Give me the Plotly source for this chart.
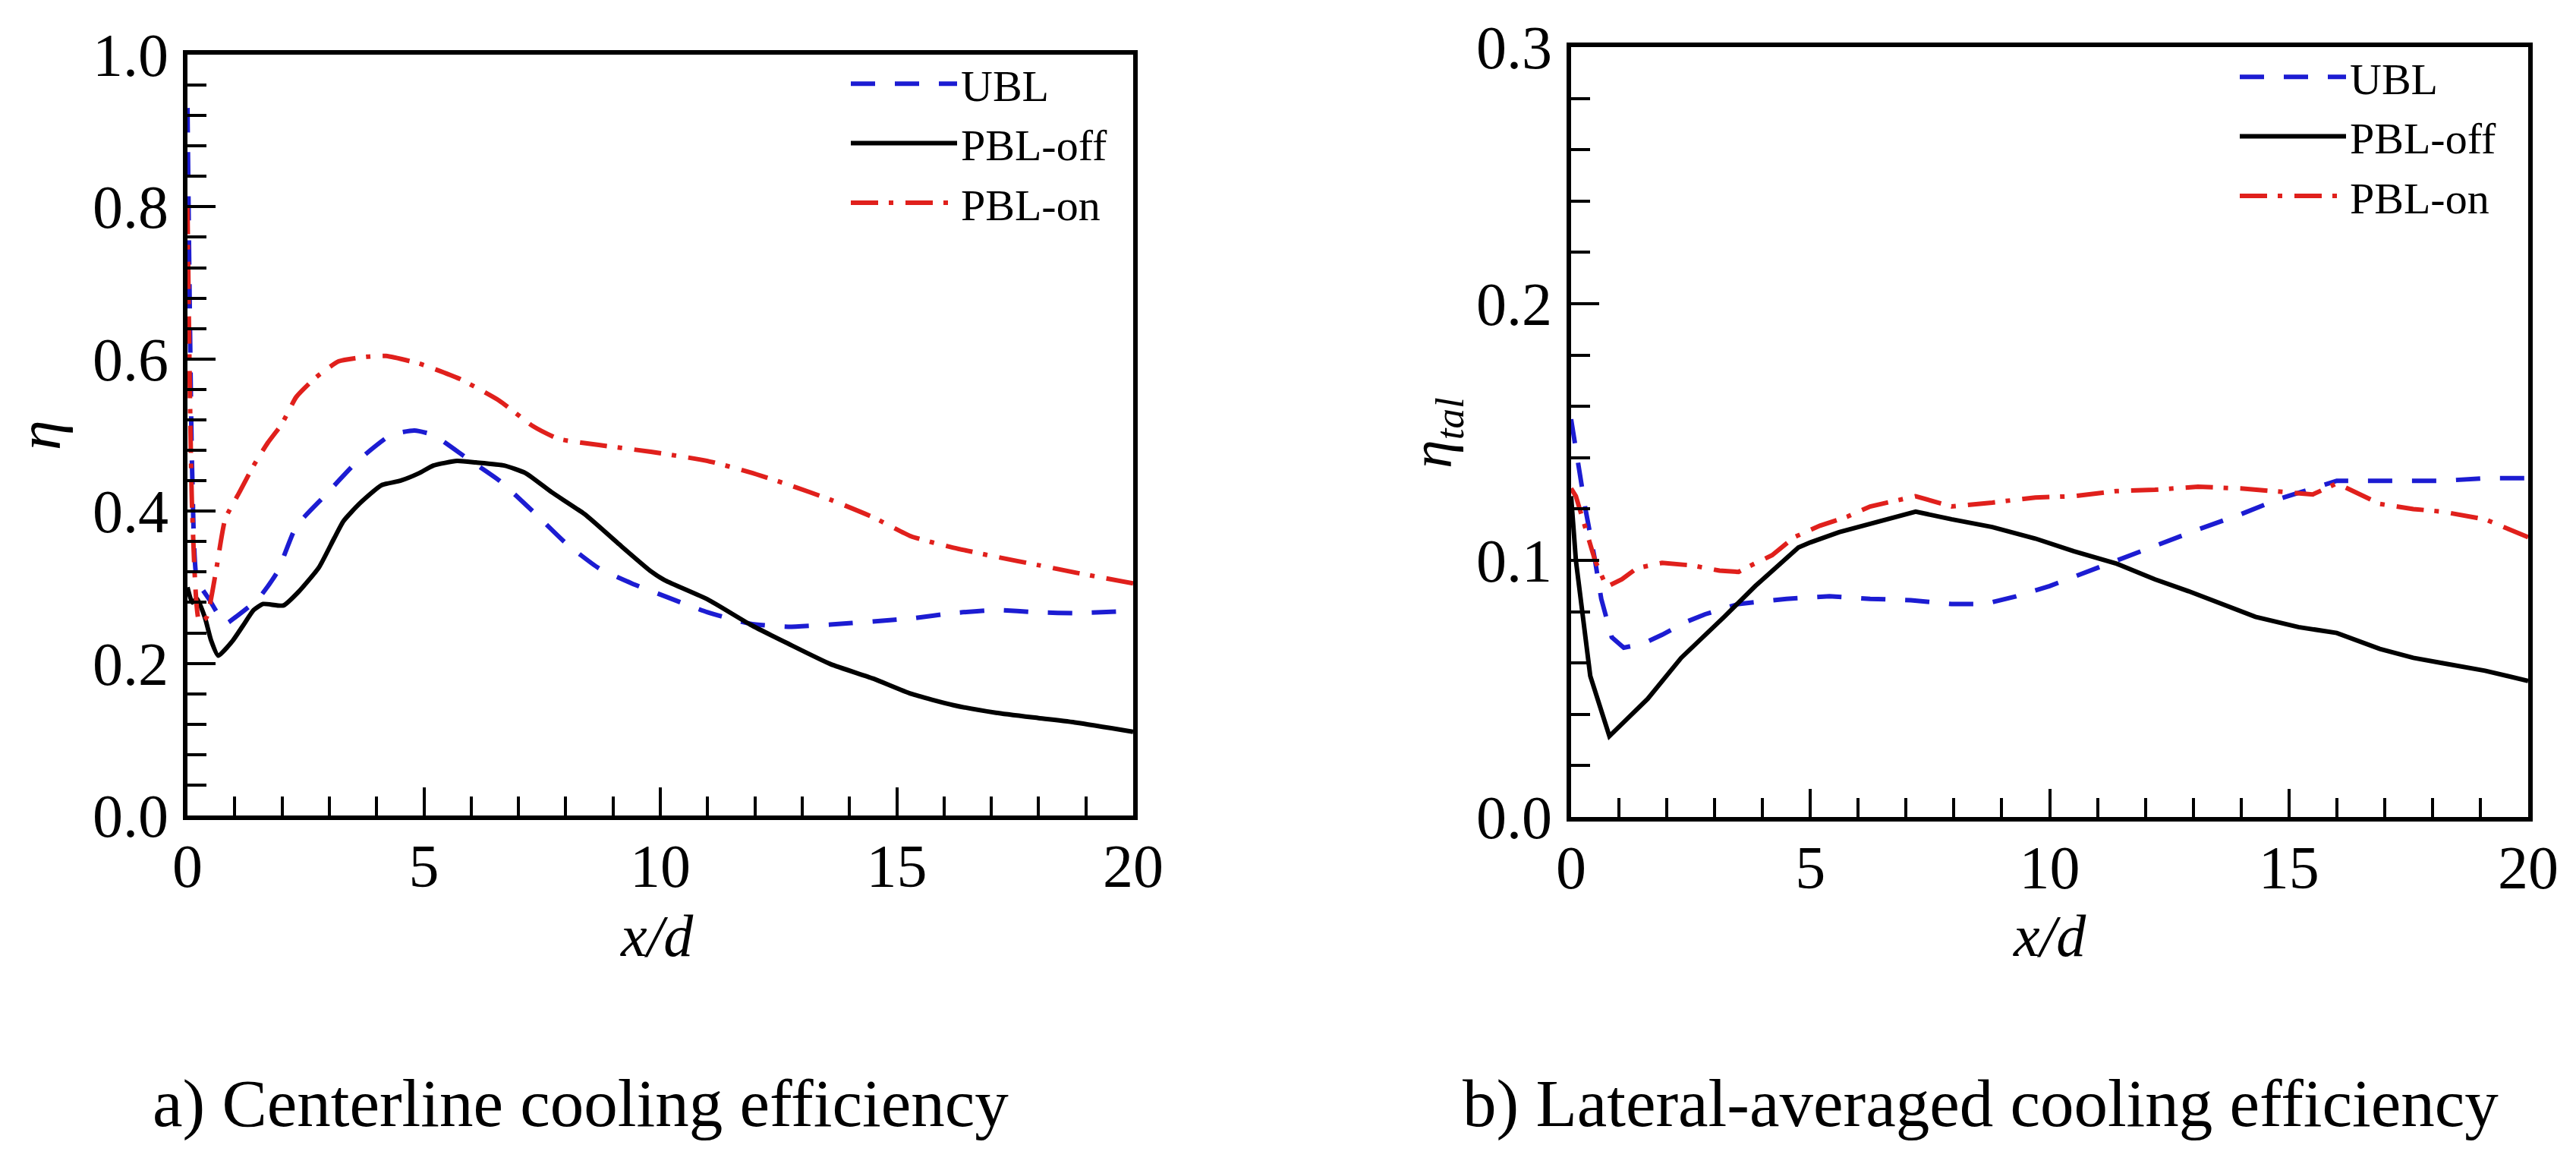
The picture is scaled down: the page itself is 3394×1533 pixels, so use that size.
import plotly.graph_objects as go

# ---------------- data: (a) centerline cooling efficiency ----------------
a_ubl_x = [0, 0.1, 0.2, 0.45, 0.8, 1.0, 1.5, 1.9, 2.3, 2.9, 3.6, 4.3, 4.8, 5.2, 5.9, 6.6, 7.3, 8.0, 8.7, 9.4,
           10.1, 11.0, 11.9, 12.7, 13.6, 14.5, 15.3, 16.2, 17.1, 18.0, 18.8, 20]
a_ubl_y = [0.93, 0.45, 0.31, 0.285, 0.252, 0.26, 0.285, 0.32, 0.38, 0.42, 0.466, 0.5, 0.506, 0.5, 0.47, 0.44,
           0.40, 0.358, 0.325, 0.305, 0.288, 0.267, 0.252, 0.248, 0.251, 0.255, 0.259, 0.266, 0.27, 0.267,
           0.266, 0.269]

a_off_x = [0, 0.1, 0.2, 0.37, 0.5, 0.65, 0.96, 1.18, 1.4, 1.6, 2.03, 2.35, 2.78, 3.1, 3.3, 3.64, 4.1, 4.5,
           4.9, 5.2, 5.7, 6.1, 6.7, 7.15, 7.7, 8.4, 9.1, 9.8, 10.1, 11.0, 11.9, 12.7, 13.6, 14.5, 15.3, 16.2,
           17.1, 18.0, 18.8, 20]
a_off_y = [0.30, 0.28, 0.285, 0.26, 0.23, 0.21, 0.23, 0.25, 0.27, 0.278, 0.276, 0.294, 0.326, 0.364, 0.387,
           0.41, 0.434, 0.44, 0.45, 0.46, 0.466, 0.464, 0.46, 0.45, 0.425, 0.396, 0.358, 0.321, 0.309, 0.284,
           0.251, 0.226, 0.199, 0.18, 0.16, 0.145, 0.135, 0.128, 0.122, 0.11]

a_on_x = [0, 0.1, 0.25, 0.4, 0.6, 0.8, 1.1, 1.4, 1.7, 2.0, 2.3, 2.7, 3.2, 3.8, 4.2, 4.9, 5.75, 6.6, 7.3, 7.85,
          8.7, 9.8, 11.0, 11.9, 12.7, 13.6, 14.5, 15.3, 16.2, 17.1, 18.0, 18.8, 20]
a_on_y = [0.80, 0.40, 0.255, 0.26, 0.32, 0.39, 0.425, 0.46, 0.49, 0.515, 0.55, 0.575, 0.597, 0.603, 0.604,
          0.594, 0.574, 0.545, 0.512, 0.495, 0.487, 0.478, 0.466, 0.451, 0.435, 0.415, 0.392, 0.367, 0.352,
          0.34, 0.329, 0.319, 0.305]

# ---------------- data: (b) lateral-averaged cooling efficiency ----------------
b_ubl_x = [0, 0.3, 0.5, 0.63, 0.85, 1.1, 1.5, 1.9, 2.4, 2.8, 3.5, 4.5, 5.4, 6.25, 7.1, 7.95, 8.65, 9.3, 10.0,
           10.7, 11.4, 12.2, 13.1, 14.0, 14.8, 15.5, 16.0, 16.5, 17.4, 18.2, 19.1, 20]
b_ubl_y = [0.155, 0.12, 0.1, 0.085, 0.07, 0.066, 0.0675, 0.071, 0.076, 0.079, 0.083, 0.085, 0.086, 0.085,
           0.0845, 0.083, 0.083, 0.086, 0.09, 0.095, 0.1, 0.106, 0.112, 0.118, 0.124, 0.128, 0.131, 0.131,
           0.131, 0.131, 0.132, 0.132]

b_off_x = [0, 0.1, 0.4, 0.8, 1.6, 2.3, 3.2, 3.85, 4.75, 5.0, 5.6, 6.4, 7.2, 7.95, 8.8, 9.7, 10.5, 11.4, 12.2,
           12.9, 13.6, 14.3, 15.2, 16.0, 16.9, 17.6, 18.2, 19.1, 20]
b_off_y = [0.125, 0.1, 0.055, 0.0315, 0.046, 0.062, 0.078, 0.09, 0.105, 0.107, 0.111, 0.115, 0.119, 0.116,
           0.113, 0.1085, 0.1036, 0.0987, 0.0926, 0.088, 0.083, 0.078, 0.074, 0.0717, 0.0655, 0.062, 0.06,
           0.057, 0.053]

b_on_x = [0, 0.1, 0.5, 0.74, 1.06, 1.38, 1.9, 2.54, 3.1, 3.5, 3.7, 4.2, 4.66, 5.2, 5.77, 6.25, 7.2, 7.95, 8.8,
          9.7, 10.5, 11.4, 12.2, 13.1, 14.0, 14.8, 15.5, 16.0, 16.9, 17.6, 18.2, 19.1, 20]
b_on_y = [0.128, 0.125, 0.1, 0.0897, 0.0926, 0.097, 0.099, 0.098, 0.096, 0.0955, 0.0975, 0.102, 0.109,
          0.1135, 0.117, 0.121, 0.125, 0.121, 0.1225, 0.1245, 0.125, 0.127, 0.1275, 0.1287, 0.128, 0.127,
          0.1257, 0.13, 0.122, 0.12, 0.119, 0.116, 0.109]

series_names = ["UBL", "PBL-off", "PBL-on"]
x_ticks = [0, 5, 10, 15, 20]
a_y_ticks = [0.0, 0.2, 0.4, 0.6, 0.8, 1.0]
b_y_ticks = [0.0, 0.1, 0.2, 0.3]
captions = ["a) Centerline cooling efficiency", "b) Lateral-averaged cooling efficiency"]
x_title = "<i>x/d</i>"
a_y_title = "<i>η</i>"
b_y_title = "<i>η</i><sub><i>tal</i></sub>"

FONT = "Liberation Serif"
BLUE = "#1c1cd2"
RED = "#e0201c"
BLACK = "#000000"
styles = [
    dict(color=BLUE, width=6, dash="32px,26px"),
    dict(color=BLACK, width=6, dash="solid"),
    dict(color=RED, width=6, dash="36px,14px,6px,16px"),
]

fig = go.Figure()

a_sets = [(a_ubl_x, a_ubl_y), (a_off_x, a_off_y), (a_on_x, a_on_y)]
b_sets = [(b_ubl_x, b_ubl_y), (b_off_x, b_off_y), (b_on_x, b_on_y)]

for (xs, ys), name, st in zip(a_sets, series_names, styles):
    fig.add_trace(go.Scatter(x=xs, y=ys, mode="lines", name=name, line=dict(**st, shape="spline", smoothing=0.5),
                             xaxis="x", yaxis="y", legend="legend"))
for (xs, ys), name, st in zip(b_sets, series_names, styles):
    fig.add_trace(go.Scatter(x=xs, y=ys, mode="lines", name=name, line=dict(**st),
                             xaxis="x2", yaxis="y2", legend="legend2"))

W, H = 3394, 1533


def px_x(p):
    return p / W


def px_y(p):
    return 1 - p / H


common = dict(
    showline=True, linecolor="black", linewidth=6, mirror=True,
    ticks="inside", ticklen=37, tickwidth=4, tickcolor="black",
    showgrid=False, zeroline=False, automargin=False,
    tickfont=dict(family=FONT, size=80, color="black"),
)

xaxis_common = dict(common, range=[0, 20], tickvals=x_ticks, ticktext=[str(v) for v in x_ticks],
                    minor=dict(dtick=1, ticks="inside", ticklen=25, tickwidth=4, tickcolor="black", showgrid=False),
                    ticklabelstandoff=-8)

fig.update_layout(
    width=W, height=H,
    margin=dict(l=0, r=0, t=0, b=0),
    paper_bgcolor="white", plot_bgcolor="white",
    font=dict(family=FONT, color="black"),
    xaxis=dict(xaxis_common, domain=[px_x(239), px_x(1485)], anchor="y"),
    yaxis=dict(common, range=[0, 1.0], tickvals=a_y_ticks, ticktext=[f"{v:.1f}" for v in a_y_ticks],
               domain=[px_y(1066), px_y(64)], anchor="x",
               minor=dict(dtick=0.04, ticks="inside", ticklen=25, tickwidth=4, tickcolor="black", showgrid=False),
               ticklabelstandoff=3),
    xaxis2=dict(xaxis_common, domain=[px_x(2062), px_x(3323)], anchor="y2"),
    yaxis2=dict(common, range=[0, 0.3], tickvals=b_y_ticks, ticktext=[f"{v:.1f}" for v in b_y_ticks],
                domain=[px_y(1068), px_y(54)], anchor="x2",
                minor=dict(dtick=0.02, ticks="inside", ticklen=25, tickwidth=4, tickcolor="black", showgrid=False),
                ticklabelstandoff=3),
    legend=dict(x=px_x(1108), y=px_y(58), xanchor="left", yanchor="top", bgcolor="rgba(0,0,0,0)",
                itemwidth=140, font=dict(family=FONT, size=58, color="black"), tracegroupgap=0),
    legend2=dict(x=px_x(2938), y=px_y(49), xanchor="left", yanchor="top", bgcolor="rgba(0,0,0,0)",
                 itemwidth=140, font=dict(family=FONT, size=58, color="black"), tracegroupgap=0),
)

title_font = dict(family=FONT, size=78, color="black")
cap_font = dict(family=FONT, size=89, color="black")
ann = [
    dict(text=x_title, x=px_x(857), y=px_y(1224), textangle=0, font=title_font),
    dict(text=x_title, x=px_x(2692), y=px_y(1224), textangle=0, font=title_font),
    dict(text=a_y_title, x=px_x(44), y=px_y(565), textangle=-90, font=dict(title_font, size=80)),
    dict(text=b_y_title, x=px_x(1884), y=px_y(562), textangle=-90, font=dict(title_font, size=76)),
    dict(text=captions[0], x=px_x(757), y=px_y(1445), textangle=0, font=cap_font),
    dict(text=captions[1], x=px_x(2601), y=px_y(1445), textangle=0, font=cap_font),
]
for a in ann:
    fig.add_annotation(xref="paper", yref="paper", showarrow=False, xanchor="center", yanchor="middle", **a)

fig.write_html("out.html")
